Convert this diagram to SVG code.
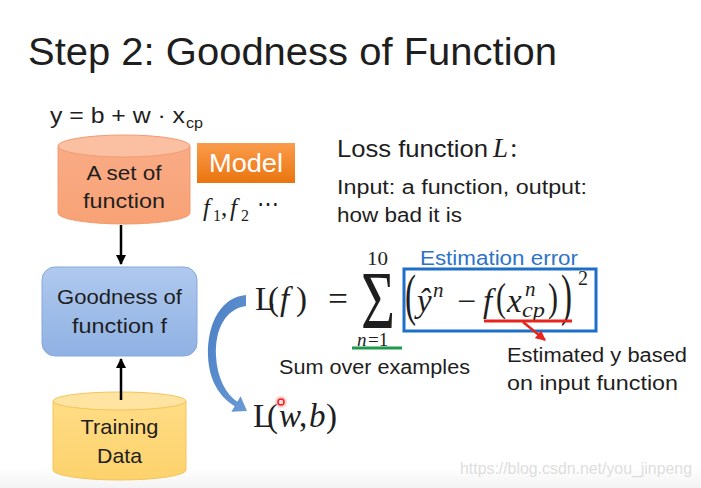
<svg xmlns="http://www.w3.org/2000/svg" width="701" height="488" viewBox="0 0 701 488">
<defs>
<style>
.s{font-family:"Liberation Sans",Arial,sans-serif;fill:#1e1e1e}
.m{font-family:"Liberation Serif","Times New Roman",serif;fill:#1e1e1e}
.i{font-style:italic}
.blk{stroke:#000;stroke-width:2.5;fill:none}
</style>
<linearGradient id="gOr" x1="0" y1="0" x2="0" y2="1"><stop offset="0" stop-color="#f9ab85"/><stop offset="1" stop-color="#f8a276"/></linearGradient>
<linearGradient id="gYe" x1="0" y1="0" x2="0" y2="1"><stop offset="0" stop-color="#ffdc85"/><stop offset="1" stop-color="#fdd26c"/></linearGradient>
<linearGradient id="gBl" x1="0" y1="0" x2="0" y2="1"><stop offset="0" stop-color="#b0c9ee"/><stop offset="1" stop-color="#8fb1e3"/></linearGradient>
<linearGradient id="gMo" x1="0" y1="0" x2="0" y2="1"><stop offset="0" stop-color="#fb9c4c"/><stop offset="1" stop-color="#ea740f"/></linearGradient>
<linearGradient id="gCu" x1="0" y1="0" x2="1" y2="1"><stop offset="0" stop-color="#4a7fc4"/><stop offset="1" stop-color="#6a9ad6"/></linearGradient>
<linearGradient id="gBg" x1="0" y1="0" x2="0" y2="1"><stop offset="0" stop-color="#ffffff"/><stop offset="1" stop-color="#f3f3f3"/></linearGradient>
<marker id="ah" viewBox="0 0 10 10" refX="9" refY="5" markerWidth="4" markerHeight="4" orient="auto"><path d="M0,0 L10,5 L0,10 z" fill="#000"/></marker>
<marker id="ahr" viewBox="0 0 10 10" refX="9" refY="5" markerWidth="4" markerHeight="4" orient="auto"><path d="M0,0 L10,5 L0,10 z" fill="#e8251c"/></marker>
</defs>
<rect x="0" y="0" width="701" height="488" fill="#fff"/>
<rect x="0" y="468" width="701" height="20" fill="url(#gBg)"/>

<g id="title"><text class="s" x="28" y="65" font-size="38" textLength="529" lengthAdjust="spacingAndGlyphs">Step 2: Goodness of Function</text></g>

<g id="model-formula"><text class="s" x="50" y="123" font-size="22" textLength="135" lengthAdjust="spacingAndGlyphs">y = b + w · x</text><text class="s" x="186" y="128" font-size="15" textLength="17" lengthAdjust="spacingAndGlyphs">cp</text></g>

<g id="set-of-function">
<path d="M58 146 L58 213 A66 11 0 0 0 190 213 L190 146 Z" fill="url(#gOr)" stroke="#f29c72" stroke-width="1"/>
<ellipse cx="124" cy="146" rx="66" ry="11" fill="#fbc0a2" stroke="#f29c72" stroke-width="1"/>
<text class="s" x="124" y="180" font-size="21" text-anchor="middle" textLength="75" lengthAdjust="spacingAndGlyphs">A set of</text>
<text class="s" x="124" y="208" font-size="21" text-anchor="middle" textLength="82" lengthAdjust="spacingAndGlyphs">function</text>
</g>

<g id="model">
<rect x="197" y="143" width="98" height="40" fill="url(#gMo)"/>
<text x="246" y="172" font-family="Liberation Sans,Arial,sans-serif" font-size="25" fill="#fff" text-anchor="middle" textLength="74" lengthAdjust="spacingAndGlyphs">Model</text>
<text class="m" y="216" font-size="25"><tspan class="i" x="203">f</tspan><tspan x="213" y="221" font-size="16">1</tspan><tspan x="221" y="216">,</tspan><tspan class="i" x="230">f</tspan><tspan x="241" y="221" font-size="16">2</tspan><tspan x="257" y="211" font-size="22">⋯</tspan></text>
</g>

<g id="goodness">
<rect x="42" y="267" width="155" height="89" rx="13" fill="url(#gBl)" stroke="#86a8dc" stroke-width="1"/>
<text class="s" x="119.5" y="304" font-size="21" text-anchor="middle" textLength="125" lengthAdjust="spacingAndGlyphs">Goodness of</text>
<text class="s" x="119.5" y="333" font-size="21" text-anchor="middle" textLength="95" lengthAdjust="spacingAndGlyphs">function f</text>
</g>

<g id="training-data">
<path d="M53 401 L53 470 A66.5 10 0 0 0 186 470 L186 401 Z" fill="url(#gYe)" stroke="#f2c55c" stroke-width="1"/>
<ellipse cx="119.5" cy="401" rx="66.5" ry="9" fill="#ffe3a0" stroke="#f2c55c" stroke-width="1"/>
<text class="s" x="119.5" y="434" font-size="21" text-anchor="middle" textLength="78" lengthAdjust="spacingAndGlyphs">Training</text>
<text class="s" x="119.5" y="463" font-size="21" text-anchor="middle" textLength="45" lengthAdjust="spacingAndGlyphs">Data</text>
</g>

<g id="loss-text">
<text class="s" x="337" y="157" font-size="24" textLength="151" lengthAdjust="spacingAndGlyphs">Loss function</text>
<text class="m" y="157" font-size="27"><tspan class="i" x="493">L</tspan><tspan x="510">:</tspan></text>
<text class="s" x="337" y="194" font-size="20" textLength="250" lengthAdjust="spacingAndGlyphs">Input: a function, output:</text>
<text class="s" x="337" y="222" font-size="20" textLength="125" lengthAdjust="spacingAndGlyphs">how bad it is</text>
</g>

<g id="loss-formula">
<text class="m" y="310" font-size="33"><tspan x="255">L</tspan><tspan x="268">(</tspan><tspan class="i" x="280">f</tspan><tspan x="296">)</tspan></text>
<text class="m" x="328" y="310" font-size="33" textLength="20" lengthAdjust="spacingAndGlyphs">=</text>
<text class="m" x="361" y="328" font-size="83" textLength="34" lengthAdjust="spacingAndGlyphs">Σ</text>
<text class="m" x="367" y="265" font-size="19" textLength="21" lengthAdjust="spacingAndGlyphs">10</text>
<text class="m" y="346" font-size="19"><tspan class="i" x="357">n</tspan><tspan x="368">=1</tspan></text>
<line x1="352" y1="348" x2="402" y2="348" stroke="#1f9a4a" stroke-width="3"/>
<text x="420" y="265" font-family="Liberation Sans,Arial,sans-serif" font-size="20" fill="#2e73c6" textLength="158" lengthAdjust="spacingAndGlyphs">Estimation error</text>
<rect x="404" y="269" width="192" height="62" fill="none" stroke="#1d6fc8" stroke-width="3"/>
<text class="m" x="405" y="314" font-size="56" textLength="11" lengthAdjust="spacingAndGlyphs">(</text>
<text class="m i" x="417" y="312" font-size="33">ŷ</text>
<text class="m i" x="433" y="297" font-size="21">n</text>
<text class="m" x="457" y="312" font-size="32" textLength="19" lengthAdjust="spacingAndGlyphs">−</text>
<text class="m i" x="483" y="312" font-size="33">f</text>
<text class="m" x="496" y="311" font-size="41" textLength="10" lengthAdjust="spacingAndGlyphs">(</text>
<text class="m i" x="507" y="312" font-size="33">x</text>
<text class="m i" x="525" y="296" font-size="21">n</text>
<text class="m i" x="522" y="317" font-size="21" textLength="23" lengthAdjust="spacingAndGlyphs">cp</text>
<text class="m" x="548" y="311" font-size="41" textLength="10" lengthAdjust="spacingAndGlyphs">)</text>
<text class="m" x="561" y="314" font-size="56" textLength="11" lengthAdjust="spacingAndGlyphs">)</text>
<text class="m" x="578" y="285" font-size="20">2</text>
<line x1="484" y1="321" x2="572" y2="321" stroke="#e8251c" stroke-width="3"/>
<text class="s" x="279" y="374" font-size="20" textLength="191" lengthAdjust="spacingAndGlyphs">Sum over examples</text>
<text class="s" x="507" y="362" font-size="20" textLength="180" lengthAdjust="spacingAndGlyphs">Estimated y based</text>
<text class="s" x="507" y="390" font-size="20" textLength="171" lengthAdjust="spacingAndGlyphs">on input function</text>
<text class="m" y="427" font-size="33"><tspan x="253">L</tspan><tspan x="267">(</tspan><tspan class="i" x="279">w</tspan><tspan x="299">,</tspan><tspan class="i" x="309">b</tspan><tspan x="326">)</tspan></text>
</g>

<g id="connectors">
<line class="blk" x1="121" y1="225" x2="121" y2="264" marker-end="url(#ah)"/>
<line class="blk" x1="121" y1="400" x2="121" y2="359" marker-end="url(#ah)"/>
<line x1="523" y1="322" x2="545" y2="340" stroke="#e8251c" stroke-width="2.5" marker-end="url(#ahr)"/>
<path d="M246 295 C222 297 207 322 208 356 C209 382 221 398 234.7 406.2 L231.4 411.7 L247 411 L240.6 396.3 L237.3 401.8 C226 394 217 378 216 356 C215 328 226 309 246 306 Z" fill="url(#gCu)"/>
</g>

<g id="pointer">
<circle cx="281" cy="402" r="6" fill="#ff9a9a" opacity="0.45"/>
<circle cx="281" cy="402" r="3" fill="#ffe0e0" stroke="#ee2222" stroke-width="1.5"/>
</g>

<g id="watermark"><text x="460" y="474" font-family="Liberation Sans,Arial,sans-serif" font-size="17" fill="#dedede" textLength="232" lengthAdjust="spacingAndGlyphs">https://blog.csdn.net/you_jinpeng</text></g>
</svg>
